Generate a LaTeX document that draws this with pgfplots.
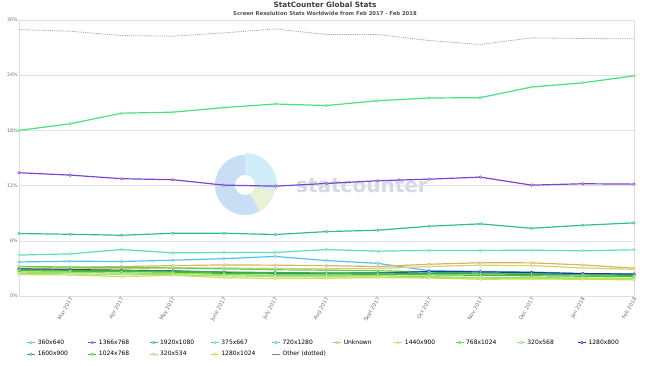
\documentclass[border=0pt]{standalone}
\usepackage{pgfplots}
\pgfplotsset{compat=1.18}
\usepackage{fontspec}
\setmainfont{DejaVu Sans}
\definecolor{cA}{RGB}{72,225,130}
\definecolor{cB}{RGB}{120,70,210}
\definecolor{cC}{RGB}{50,185,155}
\definecolor{cD}{RGB}{90,225,175}
\definecolor{cE}{RGB}{80,195,235}
\definecolor{cF}{RGB}{215,180,95}
\definecolor{cG}{RGB}{215,208,110}
\definecolor{cH}{RGB}{100,210,80}
\definecolor{cI}{RGB}{140,225,110}
\definecolor{cJ}{RGB}{40,50,160}
\definecolor{cK}{RGB}{45,170,100}
\definecolor{cL}{RGB}{80,190,30}
\definecolor{cM}{RGB}{160,225,120}
\definecolor{cN}{RGB}{205,220,80}
\definecolor{gridc}{RGB}{224,224,224}
\definecolor{txtc}{RGB}{110,110,110}
\newcommand{\lt}[1]{\makebox[48pt][l]{#1}}
\begin{document}
\begin{tikzpicture}[x=1pt,y=1pt]
\useasboundingbox (-19,-70) rectangle (631,296);
% watermark
\fill[color={rgb,255:red,200;green,222;blue,245}] (226,111) circle (30);
\fill[color={rgb,255:red,208;green,238;blue,250}] (226,111) -- (226,143) arc (90:-10:32) -- cycle;
\fill[color={rgb,255:red,232;green,242;blue,212}] (226,111) -- ++(-10:30) arc (-10:-60:30) -- cycle;
\fill[white] (226,111) circle (10);
\node[text={rgb,255:red,210;green,218;blue,230}, font=\fontsize{20}{20}\selectfont\bfseries] at (343,110) {statcounter};
\node[font=\fontsize{7.3}{8}\selectfont\bfseries, text={rgb,255:red,60;green,60;blue,60}] at (306,291) {StatCounter Global Stats};
\node[font=\fontsize{5.3}{6}\selectfont\bfseries, text={rgb,255:red,80;green,80;blue,80}] at (306,282) {Screen Resolution Stats Worldwide from Feb 2017 - Feb 2018};
\begin{axis}[
  at={(0,0)}, anchor=origin,
  scale only axis, width=615pt, height=276pt,
  xmin=0, xmax=12, ymin=0, ymax=30,
  xtick={0,...,12},
  xticklabels={,Mar 2017,Apr 2017,May 2017,June 2017,July 2017,Aug 2017,Sept 2017,Oct 2017,Nov 2017,Dec 2017,Jan 2018,Feb 2018},
  xticklabel style={rotate=60, anchor=east, font=\fontsize{5.2}{6}\selectfont, text=txtc, inner sep=1pt, yshift=-2pt},
  ytick={0,6,...,30},
  yticklabel={\pgfmathprintnumber{\tick}\%},
  yticklabel style={font=\fontsize{4.8}{5}\selectfont, text=txtc, inner sep=1pt},
  /pgf/number format/assume math mode=true,
  major tick length=0pt,
  ymajorgrids, grid style={gridc, line width=0.5pt},
  axis line style={gridc, line width=0.6pt},
  every axis plot/.append style={line width=1.2pt, mark=*, mark size=1.3pt, mark options={fill=white, solid, line width=0.5pt}},
  legend columns=10,
  legend style={at={(0.012,-0.15)}, anchor=north west, draw=none, fill=none,
    font=\fontsize{6}{7}\selectfont, row sep=1.5pt, cells={anchor=west}, inner sep=0pt},
  legend image code/.code={\draw[#1] (0pt,0pt) -- (8pt,0pt); \draw[#1, mark repeat=1] plot coordinates {(4pt,0pt)};},
]
\addplot[cA] coordinates {(0,18.0)(1,18.72)(2,19.87)(3,19.98)(4,20.48)(5,20.87)(6,20.7)(7,21.23)(8,21.52)(9,21.56)(10,22.71)(11,23.17)(12,23.93)};
\addlegendentry{\lt{360x640}}
\addplot[cB] coordinates {(0,13.4)(1,13.14)(2,12.75)(3,12.64)(4,12.05)(5,11.94)(6,12.23)(7,12.53)(8,12.7)(9,12.92)(10,12.05)(11,12.2)(12,12.16)};
\addlegendentry{\lt{1366x768}}
\addplot[cC] coordinates {(0,6.79)(1,6.71)(2,6.6)(3,6.82)(4,6.82)(5,6.68)(6,7.0)(7,7.15)(8,7.58)(9,7.84)(10,7.36)(11,7.69)(12,7.95)};
\addlegendentry{\lt{1920x1080}}
\addplot[cD] coordinates {(0,4.45)(1,4.58)(2,5.05)(3,4.69)(4,4.73)(5,4.73)(6,5.05)(7,4.87)(8,4.95)(9,4.95)(10,4.98)(11,4.91)(12,5.02)};
\addlegendentry{\lt{375x667}}
\addplot[cE] coordinates {(0,3.7)(1,3.78)(2,3.75)(3,3.89)(4,4.06)(5,4.3)(6,3.85)(7,3.55)(8,2.76)(9,2.68)(10,2.61)(11,2.43)(12,2.4)};
\addlegendentry{\lt{720x1280}}
\addplot[cF] coordinates {(0,3.0)(1,3.1)(2,3.2)(3,3.3)(4,3.38)(5,3.35)(6,3.3)(7,3.2)(8,3.45)(9,3.62)(10,3.6)(11,3.38)(12,3.02)};
\addlegendentry{\lt{Unknown}}
\addplot[cG] coordinates {(0,2.9)(1,2.95)(2,3.0)(3,3.05)(4,3.05)(5,3.0)(6,2.95)(7,3.0)(8,3.2)(9,3.35)(10,3.3)(11,3.05)(12,2.9)};
\addlegendentry{\lt{1440x900}}
\addplot[cH] coordinates {(0,3.2)(1,3.15)(2,3.1)(3,3.05)(4,2.95)(5,2.85)(6,2.8)(7,2.75)(8,2.6)(9,2.5)(10,2.45)(11,2.35)(12,2.3)};
\addlegendentry{\lt{768x1024}}
\addplot[cI] coordinates {(0,2.6)(1,2.55)(2,2.5)(3,2.45)(4,2.35)(5,2.2)(6,2.25)(7,2.2)(8,2.1)(9,2.0)(10,2.0)(11,1.95)(12,1.9)};
\addlegendentry{\lt{320x568}}
\addplot[cJ] coordinates {(0,2.94)(1,2.87)(2,2.8)(3,2.73)(4,2.58)(5,2.44)(6,2.47)(7,2.51)(8,2.65)(9,2.62)(10,2.55)(11,2.44)(12,2.38)};
\addlegendentry{\lt{1280x800}}
\addplot[cK] coordinates {(0,2.85)(1,2.8)(2,2.75)(3,2.7)(4,2.6)(5,2.55)(6,2.5)(7,2.5)(8,2.45)(9,2.4)(10,2.35)(11,2.3)(12,2.25)};
\addlegendentry{\lt{1600x900}}
\addplot[cL] coordinates {(0,2.75)(1,2.7)(2,2.65)(3,2.6)(4,2.45)(5,2.4)(6,2.4)(7,2.35)(8,2.3)(9,2.25)(10,2.2)(11,2.15)(12,2.1)};
\addlegendentry{\lt{1024x768}}
\addplot[cM] coordinates {(0,2.45)(1,2.4)(2,2.35)(3,2.3)(4,2.2)(5,2.1)(6,2.1)(7,2.05)(8,2.0)(9,1.95)(10,1.9)(11,1.9)(12,1.85)};
\addlegendentry{\lt{320x534}}
\addplot[cN] coordinates {(0,2.33)(1,2.29)(2,2.11)(3,2.25)(4,2.0)(5,1.89)(6,1.93)(7,2.0)(8,1.96)(9,1.82)(10,1.85)(11,1.82)(12,1.75)};
\addlegendentry{\lt{1280x1024}}
\addplot[gray!70, densely dotted, line width=0.8pt, no marks,
  legend image code/.code={\draw[gray, solid, line width=0.8pt] (0pt,0pt) -- (8pt,0pt);}]
  coordinates {(0,28.96)(1,28.78)(2,28.31)(3,28.24)(4,28.6)(5,29.03)(6,28.42)(7,28.42)(8,27.77)(9,27.34)(10,28.06)(11,27.99)(12,27.95)};
\addlegendentry{Other (dotted)}
\end{axis}
\end{tikzpicture}
\end{document}
